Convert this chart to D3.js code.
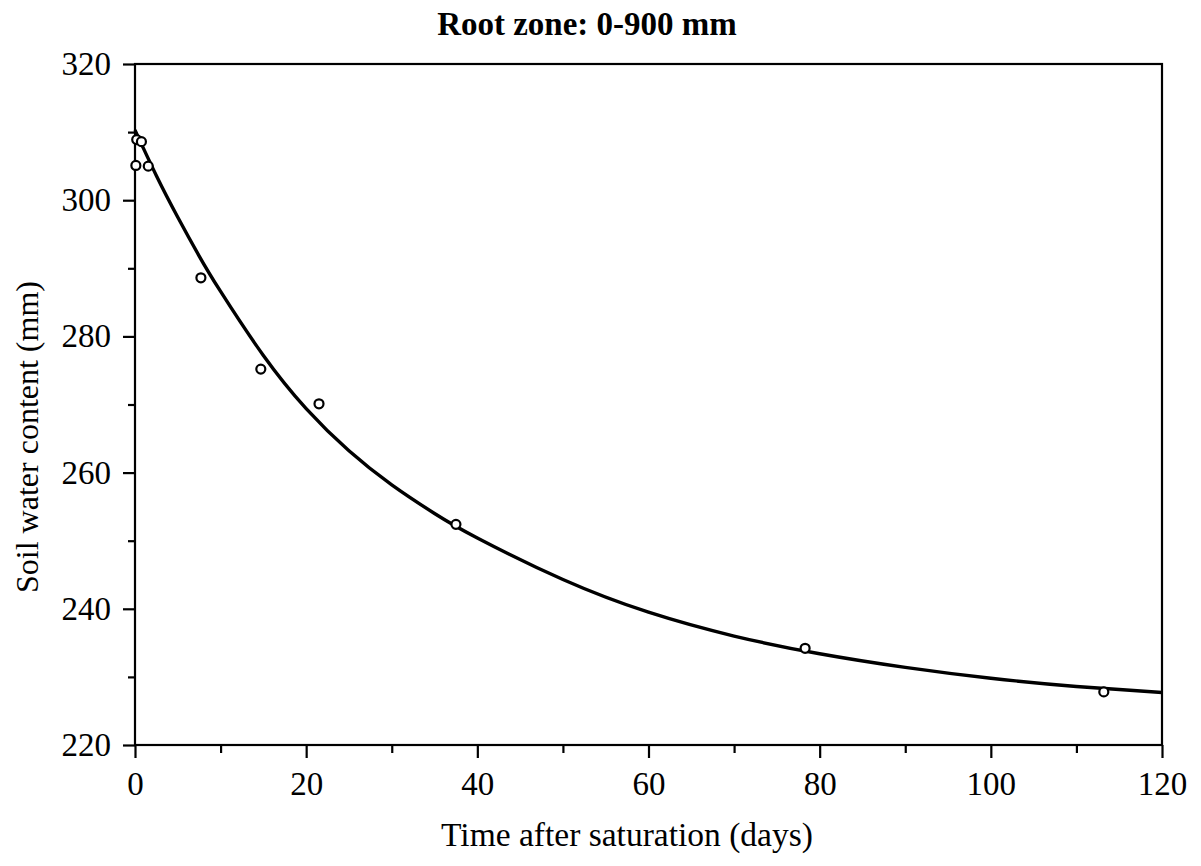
<!DOCTYPE html>
<html>
<head>
<meta charset="utf-8">
<script src="https://cdn.jsdelivr.net/npm/d3@7"></script>
<style>
  html, body { margin: 0; padding: 0; background: #fff; }
  svg { display: block; }
  text { font-family: "Liberation Serif", "Times New Roman", serif; fill: #000; }
</style>
</head>
<body>
<svg id="chart" width="1201" height="866"></svg>
<script>
(function () {
  "use strict";

  // measured soil water content (mm) vs days after saturation
  const obsDays = [0.2, 0.75, 0.1, 1.55, 7.7, 14.7, 21.5, 37.5, 78.3, 113.2];
  const obsWater = [308.9, 308.6, 305.1, 305.0, 288.6, 275.2, 270.1, 252.4, 234.2, 227.8];

  // fitted drainage curve
  const fitDays = [0, 2.5, 5, 7.5, 10, 15, 20, 25, 30, 35, 40, 50, 60, 70, 80, 90, 100, 110, 120];
  const fitWater = [310.3, 303.6, 297.5, 291.8, 286.6, 277.2, 269.4, 263.2, 258.2, 254.0, 250.4, 244.3, 239.5, 236.0, 233.4, 231.4, 229.8, 228.6, 227.7];

  const xTicks = [0, 20, 40, 60, 80, 100, 120];
  const xMinor = [10, 30, 50, 70, 90, 110];
  const yTicks = [220, 240, 260, 280, 300, 320];
  const yMinor = [230, 250, 270, 290, 310];

  const title = "Root zone: 0-900 mm";
  const xTitle = "Time after saturation (days)";
  const yTitle = "Soil water content (mm)";

  const left = 135, right = 1162, top = 64, bottom = 745;

  const svg = d3.select("#chart");
  const x = d3.scaleLinear().domain([0, 120]).range([left, right]);
  const y = d3.scaleLinear().domain([220, 320]).range([bottom, top]);

  // frame
  svg.append("rect")
    .attr("x", left).attr("y", top)
    .attr("width", right - left).attr("height", bottom - top)
    .attr("fill", "none").attr("stroke", "#000").attr("stroke-width", 2.2);

  // bottom axis
  const xAxis = svg.append("g").attr("transform", `translate(0,${bottom})`);
  xAxis.call(d3.axisBottom(x).tickValues(xTicks).tickSize(13).tickPadding(14).tickFormat(d3.format("d")));
  xAxis.append("g").call(d3.axisBottom(x).tickValues(xMinor).tickSize(8).tickFormat(""));
  xAxis.selectAll(".domain").remove();
  xAxis.selectAll("line").attr("stroke", "#000").attr("stroke-width", 2.2);
  xAxis.selectAll("text").style("font-size", "33px");

  // left axis
  const yAxis = svg.append("g").attr("transform", `translate(${left},0)`);
  yAxis.call(d3.axisLeft(y).tickValues(yTicks).tickSize(12).tickPadding(12).tickFormat(d3.format("d")));
  yAxis.append("g").call(d3.axisLeft(y).tickValues(yMinor).tickSize(7).tickFormat(""));
  yAxis.selectAll(".domain").remove();
  yAxis.selectAll("line").attr("stroke", "#000").attr("stroke-width", 2.2);
  yAxis.selectAll("text").style("font-size", "33px");

  // fitted curve
  const fit = fitDays.map((d, i) => [d, fitWater[i]]);
  svg.append("path")
    .datum(fit)
    .attr("fill", "none")
    .attr("stroke", "#000")
    .attr("stroke-width", 3.4)
    .attr("d", d3.line().x((d) => x(d[0])).y((d) => y(d[1])).curve(d3.curveNatural));

  // observations
  const obs = obsDays.map((d, i) => [d, obsWater[i]]);
  svg.append("g")
    .selectAll("circle")
    .data(obs)
    .join("circle")
    .attr("cx", (d) => x(d[0]))
    .attr("cy", (d) => y(d[1]))
    .attr("r", 4.5)
    .attr("fill", "#fff")
    .attr("stroke", "#000")
    .attr("stroke-width", 2.2);

  // titles
  svg.append("text")
    .attr("x", 587).attr("y", 35)
    .attr("text-anchor", "middle")
    .style("font-size", "33px").style("font-weight", "bold")
    .text(title);

  svg.append("text")
    .attr("x", 627).attr("y", 846)
    .attr("text-anchor", "middle")
    .style("font-size", "33.5px")
    .text(xTitle);

  svg.append("text")
    .attr("transform", `translate(38,437) rotate(-90)`)
    .attr("text-anchor", "middle")
    .style("font-size", "32px")
    .text(yTitle);
})();
</script>
</body>
</html>
